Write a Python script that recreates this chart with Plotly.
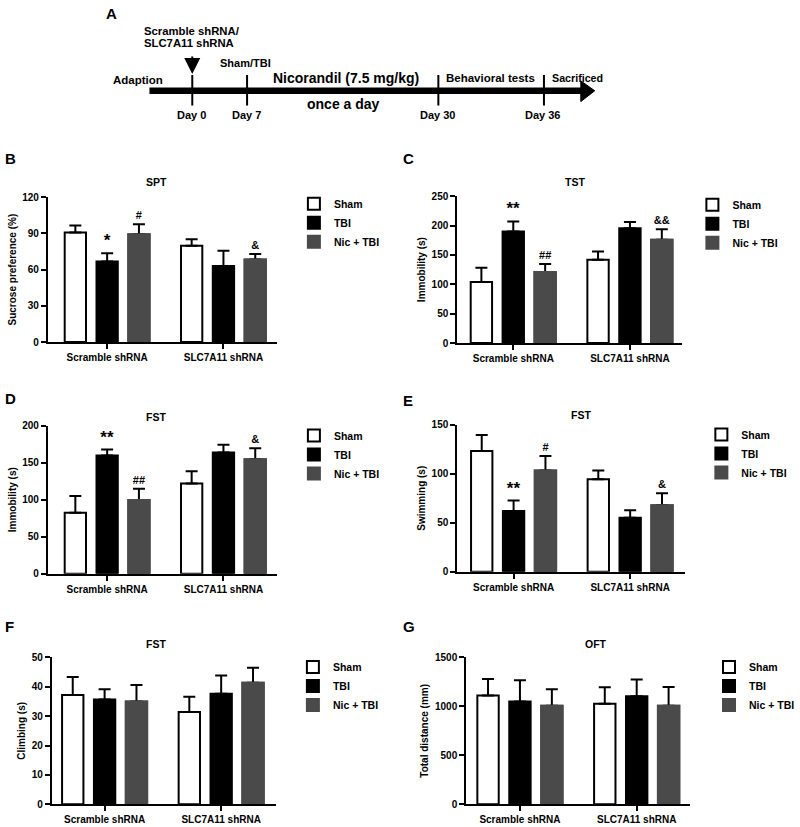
import plotly.graph_objects as go

W, H = 800, 827

# ---------------- data ----------------
groups = ["Scramble shRNA", "SLC7A11 shRNA"]
series_names = ["Sham", "TBI", "Nic + TBI"]

# SPT - sucrose preference (%)
spt_sham, spt_sham_sem = [90.7, 79.8], [5.9, 5.4]
spt_tbi, spt_tbi_sem = [66.8, 63.0], [6.8, 12.7]
spt_nic, spt_nic_sem = [89.3, 68.4], [8.2, 4.6]
spt_tbi_sig, spt_nic_sig = ["*", ""], ["#", "&"]

# TST - immobility (s)
tst_sham, tst_sham_sem = [104.0, 142.0], [24.0, 14.0]
tst_tbi, tst_tbi_sem = [189.7, 195.3], [17.3, 10.7]
tst_nic, tst_nic_sem = [121.0, 175.7], [13.7, 17.9]
tst_tbi_sig, tst_nic_sig = ["**", ""], ["##", "&&"]

# FST - immobility (s)
fsti_sham, fsti_sham_sem = [82.5, 121.8], [22.5, 16.9]
fsti_tbi, fsti_tbi_sem = [159.8, 163.8], [8.0, 10.7]
fsti_nic, fsti_nic_sem = [99.6, 154.9], [15.4, 14.7]
fsti_tbi_sig, fsti_nic_sig = ["**", ""], ["##", "&"]

# FST - swimming (s)
fsts_sham, fsts_sham_sem = [123.2, 94.3], [16.5, 9.1]
fsts_tbi, fsts_tbi_sem = [62.1, 55.0], [10.5, 7.8]
fsts_nic, fsts_nic_sem = [103.4, 67.8], [14.8, 12.2]
fsts_tbi_sig, fsts_nic_sig = ["**", ""], ["#", "&"]

# FST - climbing (s)
fstc_sham, fstc_sham_sem = [37.2, 31.4], [6.1, 5.2]
fstc_tbi, fstc_tbi_sem = [35.7, 37.6], [3.5, 6.2]
fstc_nic, fstc_nic_sem = [35.0, 41.4], [5.6, 5.1]
fstc_tbi_sig, fstc_nic_sig = ["", ""], ["", ""]

# OFT - total distance (mm)
oft_sham, oft_sham_sem = [1110, 1027], [170, 167]
oft_tbi, oft_tbi_sem = [1050, 1104], [217, 170]
oft_nic, oft_nic_sem = [1007, 1007], [167, 190]
oft_tbi_sig, oft_nic_sig = ["", ""], ["", ""]

# timeline (panel A)
timeline_days = ["Day 0", "Day 7", "Day 30", "Day 36"]

# ---------------- style ----------------
FONT = "Liberation Sans"
GREY = "#4a4a4a"


def X(px):
    return px / W


def Y(py):
    return 1 - py / H


def bfont(size, color="black"):
    return dict(family=FONT, size=size, color=color, weight="bold")


panels = [
    dict(data=(spt_sham, spt_sham_sem, spt_tbi, spt_tbi_sem, spt_nic, spt_nic_sem, spt_tbi_sig, spt_nic_sig),
         box=(48, 278, 194, 341), ymax=120, dtick=30, xr=[-0.51, 1.46], title="SPT", t=(157, 179),
         ytitle="Sucrose preference (%)", leg=(295, 186), letter="B", lpos=(3, 155)),
    dict(data=(tst_sham, tst_sham_sem, tst_tbi, tst_tbi_sem, tst_nic, tst_nic_sem, tst_tbi_sig, tst_nic_sig),
         box=(459, 685, 193, 342), ymax=250, dtick=50, xr=[-0.48, 1.45], title="TST", t=(577, 179),
         ytitle="Immobility (s)", leg=(695, 187), letter="C", lpos=(403, 155)),
    dict(data=(fsti_sham, fsti_sham_sem, fsti_tbi, fsti_tbi_sem, fsti_nic, fsti_nic_sem, fsti_tbi_sig, fsti_nic_sig),
         box=(48, 278, 426, 576), ymax=200, dtick=50, xr=[-0.51, 1.46], title="FST", t=(157, 417),
         ytitle="Immobility (s)", leg=(295, 421), letter="D", lpos=(3, 398)),
    dict(data=(fsts_sham, fsts_sham_sem, fsts_tbi, fsts_tbi_sem, fsts_nic, fsts_nic_sem, fsts_tbi_sig, fsts_nic_sig),
         box=(459, 688, 425, 574), ymax=150, dtick=50, xr=[-0.483, 1.474], title="FST", t=(583, 415),
         ytitle="Swimming (s)", leg=(704, 420), letter="E", lpos=(403, 400)),
    dict(data=(fstc_sham, fstc_sham_sem, fstc_tbi, fstc_tbi_sem, fstc_nic, fstc_nic_sem, fstc_tbi_sig, fstc_nic_sig),
         box=(52, 277, 661, 810), ymax=50, dtick=10, xr=[-0.453, 1.47], title="FST", t=(157, 647),
         ytitle="Climbing (s)", leg=(294, 656), letter="F", lpos=(3, 630)),
    dict(data=(oft_sham, oft_sham_sem, oft_tbi, oft_tbi_sem, oft_nic, oft_nic_sem, oft_tbi_sig, oft_nic_sig),
         box=(468, 693, 661, 810), ymax=1500, dtick=500, xr=[-0.46, 1.46], title="OFT", t=(598, 647),
         ytitle="Total distance (mm)", leg=(712, 656), letter="G", lpos=(403, 630)),
]

fig = go.Figure()
annotations = []
shapes = []
layout = dict(
    width=W, height=H, margin=dict(l=0, r=0, t=0, b=0),
    paper_bgcolor="white", plot_bgcolor="white",
    barmode="group", bargap=0.18, bargroupgap=0.33,
    showlegend=True, font=bfont(10),
)

for i, p in enumerate(panels, start=1):
    sfx = "" if i == 1 else str(i)
    xa, ya = "x" + sfx, "y" + sfx
    legname = "legend" + sfx
    sham, sham_sem, tbi, tbi_sem, nic, nic_sem, tbi_sig, nic_sig = p["data"]
    zeros = [0] * len(groups)

    def err(arr):
        return dict(type="data", symmetric=False, array=arr, arrayminus=zeros,
                    color="black", thickness=2, width=6)

    common = dict(x=groups, xaxis=xa, yaxis=ya, legend=legname, hoverinfo="skip")
    fig.add_trace(go.Bar(y=sham, name=series_names[0], offsetgroup="sham", error_y=err(sham_sem),
                         marker=dict(color="white", line=dict(color="black", width=2)), **common))
    fig.add_trace(go.Bar(y=tbi, name=series_names[1], offsetgroup="tbi", error_y=err(tbi_sem),
                         marker=dict(color="black", line=dict(color="black", width=2)), **common))
    fig.add_trace(go.Bar(y=nic, name=series_names[2], offsetgroup="nic", error_y=err(nic_sem),
                         marker=dict(color=GREY, line=dict(color=GREY, width=2)), **common))
    # cover the lower end of the error bar on the grey bars
    fig.add_trace(go.Bar(y=nic, name=series_names[2], offsetgroup="nic", showlegend=False,
                         marker=dict(color=GREY, line=dict(color=GREY, width=2)), **common))
    # significance marks above the error bars
    for vals, sems, sig, og in ((tbi, tbi_sem, tbi_sig, "tbi"), (nic, nic_sem, nic_sig, "nic")):
        sizes = [17 if "*" in s else 11 for s in sig]
        fig.add_trace(go.Bar(y=[v + s for v, s in zip(vals, sems)], offsetgroup=og, showlegend=False,
                             text=sig, textposition="outside",
                             outsidetextfont=dict(family=FONT, size=sizes, color="black", weight="bold"),
                             cliponaxis=False, marker=dict(color="rgba(0,0,0,0)", line=dict(width=0)),
                             **common))

    x0, x1, y0, y1 = p["box"]
    axis_common = dict(showline=True, linecolor="black", linewidth=2, ticks="outside", ticklen=5,
                       tickwidth=2, tickcolor="black", showgrid=False, zeroline=False,
                       tickfont=bfont(10), fixedrange=True)
    layout["xaxis" + sfx] = dict(domain=[X(x0), X(x1)], anchor=ya, type="category",
                                 range=p["xr"], **axis_common)
    layout["yaxis" + sfx] = dict(domain=[Y(y1), Y(y0)], anchor=xa, range=[0, p["ymax"]],
                                 dtick=p["dtick"], tick0=0,
                                 title=dict(text=p["ytitle"], font=bfont(10), standoff=4),
                                 **axis_common)
    lx, ly = p["leg"]
    layout[legname] = dict(x=X(lx), y=Y(ly), xanchor="left", yanchor="top", font=bfont(10.5),
                           bgcolor="rgba(0,0,0,0)", tracegroupgap=0)
    annotations.append(dict(text=p["title"], x=X(p["t"][0]), y=Y(p["t"][1]), xref="paper", yref="paper",
                            showarrow=False, font=bfont(10.5), xanchor="center", yanchor="middle"))
    annotations.append(dict(text=p["letter"], x=X(p["lpos"][0]), y=Y(p["lpos"][1]), xref="paper",
                            yref="paper", showarrow=False, font=bfont(15), xanchor="left",
                            yanchor="middle"))

# ---------------- panel A: timeline ----------------
line_y = 86
shapes.append(dict(type="rect", xref="paper", yref="paper", x0=X(150), x1=X(584),
                   y0=Y(89.3), y1=Y(82.7), fillcolor="black", line=dict(width=0)))
shapes.append(dict(type="path", xref="paper", yref="paper",
                   path=f"M {X(583)},{Y(76)} L {X(597)},{Y(line_y)} L {X(583)},{Y(97)} Z",
                   fillcolor="black", line=dict(color="black", width=1)))
tick_px = [193, 248, 440, 546]
for tx, lab in zip(tick_px, timeline_days):
    shapes.append(dict(type="line", xref="paper", yref="paper", x0=X(tx), x1=X(tx),
                       y0=Y(70), y1=Y(101), line=dict(color="black", width=2)))
    annotations.append(dict(text=lab, x=X(tx - 1), y=Y(111), xref="paper", yref="paper",
                            showarrow=False, font=bfont(11), xanchor="center", yanchor="middle"))


def txt(t, x, y, size, anchor="center"):
    annotations.append(dict(text=t, x=X(x), y=Y(y), xref="paper", yref="paper", showarrow=False,
                            font=bfont(size), xanchor=anchor, yanchor="middle"))


txt("A", 104, 8, 15, "left")
txt("Scramble shRNA/", 143, 25, 11.3, "left")
txt("SLC7A11 shRNA", 143, 38, 11.3, "left")
txt("Sham/TBI", 246, 58, 11)
txt("Adaption", 111, 75, 11.5, "left")
txt("Nicorandil (7.5 mg/kg)", 347, 73, 14)
txt("Behavioral tests", 492, 73, 11.5)
txt("Sacrificed", 552, 73, 10.7, "left")
txt("once a day", 345, 99, 14)
annotations.append(dict(text="", x=X(193), y=Y(69), ax=0, ay=-19, xref="paper", yref="paper",
                        showarrow=True, arrowhead=2, arrowsize=1.6, arrowwidth=2, arrowcolor="black"))

layout["annotations"] = annotations
layout["shapes"] = shapes
fig.update_layout(**layout)
fig.write_html("out.html", config={"displayModeBar": False},
               post_script="document.body.style.margin='0px';document.body.style.overflow='hidden';")
